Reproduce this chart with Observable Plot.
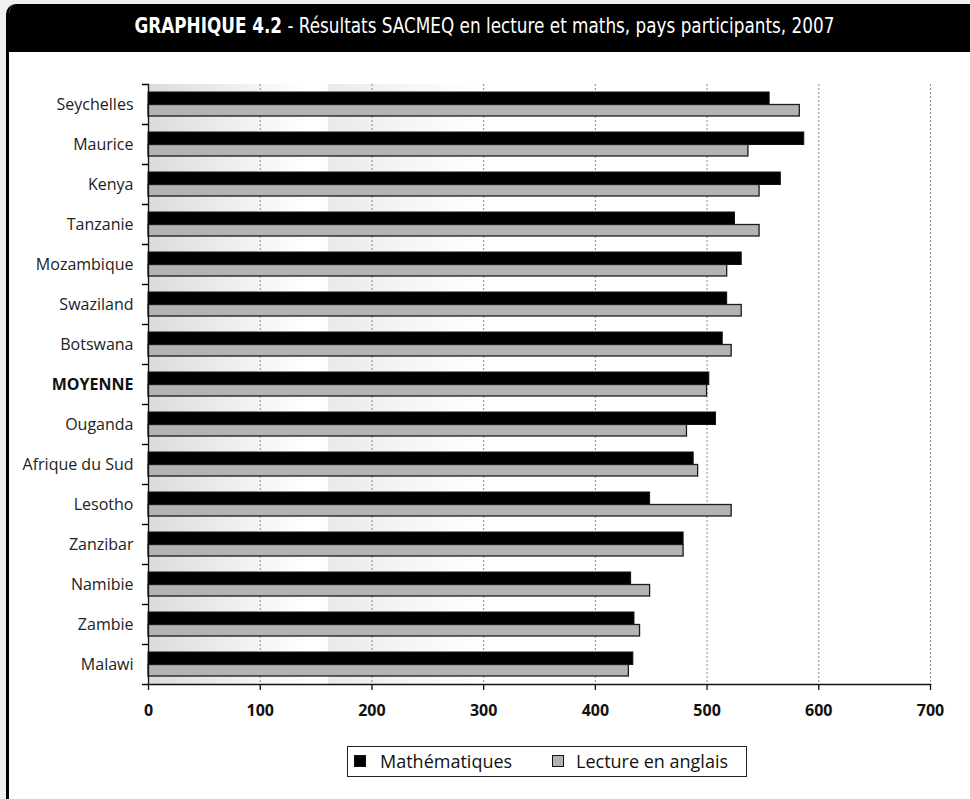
<!DOCTYPE html>
<html lang="fr">
<head>
<meta charset="utf-8">
<title>Résultats SACMEQ en lecture et maths, 2007</title>
<script src="https://cdn.jsdelivr.net/npm/d3@7"></script>
<script src="https://cdn.jsdelivr.net/npm/@observablehq/plot@0.6"></script>
<style>
  html, body { margin: 0; padding: 0; }
  body { width: 970px; height: 799px; overflow: hidden; background: #f0f0f0; font-family: "Open Sans", sans-serif; position: relative; }
  #frame { position: absolute; left: 6px; top: 4px; width: 961px; height: 800px; background: #fff;
           border-left: 3px solid #000; border-top-left-radius: 10px; overflow: hidden; }
  #title { height: 41px; padding-top: 7px; background: #000; color: #fff; text-align: center;
           white-space: nowrap; line-height: 30px; }
  #title span { display: inline-block; font-size: 22px; position: relative; left: -5px;
                font-family: "Liberation Sans Narrow", "DejaVu Sans Condensed", "Open Sans", sans-serif;
                transform-origin: 50% 50%; }
  #title b { font-weight: bold; }
  #chart { position: absolute; left: 0; top: 48px; }
  #legend { position: absolute; left: 338px; top: 742px; width: 398px; height: 29px;
            border: 1px solid #222; background: #fff; font-size: 18px; color: #111; }
  #legend .sw { position: absolute; top: 8px; width: 10px; height: 10px; border: 1px solid #111; }
  #legend .lab { position: absolute; top: 0; line-height: 29px; white-space: nowrap; }
</style>
</head>
<body>
<div id="frame">
  <div id="title"><span id="titleText"><b>GRAPHIQUE 4.2</b> - Résultats SACMEQ en lecture et maths, pays participants, 2007</span></div>
  <div id="chart"></div>
  <div id="legend"></div>
</div>
<script>
// Pays participants, dans l'ordre d'affichage
const countries = ["Seychelles", "Maurice", "Kenya", "Tanzanie", "Mozambique", "Swaziland", "Botswana",
                   "MOYENNE", "Ouganda", "Afrique du Sud", "Lesotho", "Zanzibar", "Namibie", "Zambie", "Malawi"];
// Scores moyens SACMEQ III (2007)
const maths   = [556, 587, 566, 525, 531, 518, 514, 502, 508, 488, 449, 479, 432, 435, 434];
const lecture = [583, 537, 547, 547, 518, 531, 522, 500, 482, 492, 522, 479, 449, 440, 430];
const seriesNames = ["Mathématiques", "Lecture en anglais"];
const seriesColors = ["#000000", "#b3b3b3"];
const xTicks = [0, 100, 200, 300, 400, 500, 600, 700];
const highlighted = "MOYENNE";

const rows = countries.flatMap((c, i) => [
  {country: c, serie: seriesNames[0], value: maths[i]},
  {country: c, serie: seriesNames[1], value: lecture[i]}
]);

// Fondus décoratifs à gauche de la zone de tracé
const shade1 = {from: 0, to: 161};
const shade2 = {from: 161, to: 295};

const chart = Plot.plot({
  width: 961,
  height: 680,
  marginLeft: 139,
  marginRight: 40,
  marginTop: 32,
  marginBottom: 48,
  style: {fontFamily: "Open Sans, sans-serif", fontSize: "16px", background: "transparent", color: "#111"},
  x: {domain: [0, 700]},
  y: {domain: countries, padding: 0},
  color: {domain: seriesNames, range: seriesColors},
  marks: [
    Plot.rect([shade1], {x1: "from", x2: "to", fill: "url(#fade1)"}),
    Plot.rect([shade2], {x1: "from", x2: "to", fill: "url(#fade2)"}),
    Plot.gridX(xTicks.slice(1), {stroke: "#8a8a8a", strokeOpacity: 1, strokeDasharray: "2,2"}),
    Plot.barX(rows.filter(d => d.serie === seriesNames[0]), {
      x: "value", y: "country", fill: "serie", stroke: "#111", strokeWidth: 1,
      insetTop: 8, insetBottom: 19.5
    }),
    Plot.barX(rows.filter(d => d.serie === seriesNames[1]), {
      x: "value", y: "country", fill: "serie", stroke: "#1a1a1a", strokeWidth: 1.3,
      insetTop: 20.5, insetBottom: 8
    }),
    // Libellés des pays
    Plot.axisY(countries.filter(c => c !== highlighted), {
      tickSize: 0, tickPadding: 15, fill: "#222", fontSize: 16, label: null
    }),
    Plot.axisY([highlighted], {
      tickSize: 0, tickPadding: 15, fill: "#111", fontSize: 16, fontWeight: "bold", label: null
    }),
    // Graduations aux limites des catégories
    Plot.axisY(countries, {anchor: "left", tickSize: 6, tickFormat: () => "", dy: -20, stroke: "#000", strokeWidth: 1.4, label: null}),
    Plot.axisY([countries[countries.length - 1]], {anchor: "left", tickSize: 6, tickFormat: () => "", dy: 20, stroke: "#000", strokeWidth: 1.4, label: null}),
    Plot.axisX(xTicks, {
      tickSize: 6, tickPadding: 14, fontWeight: "bold", fontSize: 16, fill: "#111", strokeWidth: 1.3, label: null
    }),
    Plot.frame({anchor: "left", strokeWidth: 1.3}),
    Plot.frame({anchor: "bottom", strokeWidth: 1.5})
  ]
});

// Dégradés utilisés par les fondus
const defs = d3.select(chart).insert("defs", ":first-child");
const grads = [
  {id: "fade1", stops: [[0, "#dadbde"], [0.88, "#ffffff"]]},
  {id: "fade2", stops: [[0, "#eaeaea"], [1, "#ffffff"]]}
];
for (const g of grads) {
  const lg = defs.append("linearGradient").attr("id", g.id)
    .attr("x1", 0).attr("x2", 1).attr("y1", 0).attr("y2", 0);
  for (const [o, c] of g.stops) lg.append("stop").attr("offset", o).attr("stop-color", c);
}

document.getElementById("chart").appendChild(chart);

// Légende
const legend = document.getElementById("legend");
const items = [
  {sw: 6, lab: 32, name: seriesNames[0], color: seriesColors[0]},
  {sw: 204, lab: 228, name: seriesNames[1], color: seriesColors[1]}
];
for (const it of items) {
  const sw = document.createElement("span");
  sw.className = "sw";
  sw.style.left = it.sw + "px";
  sw.style.background = it.color;
  legend.appendChild(sw);
  const lab = document.createElement("span");
  lab.className = "lab";
  lab.style.left = it.lab + "px";
  lab.textContent = it.name;
  legend.appendChild(lab);
}

// Titre : largeur condensée
const t = document.getElementById("titleText");
const w = t.getBoundingClientRect().width;
t.style.transform = `scaleX(${700 / w})`;
</script>
</body>
</html>
